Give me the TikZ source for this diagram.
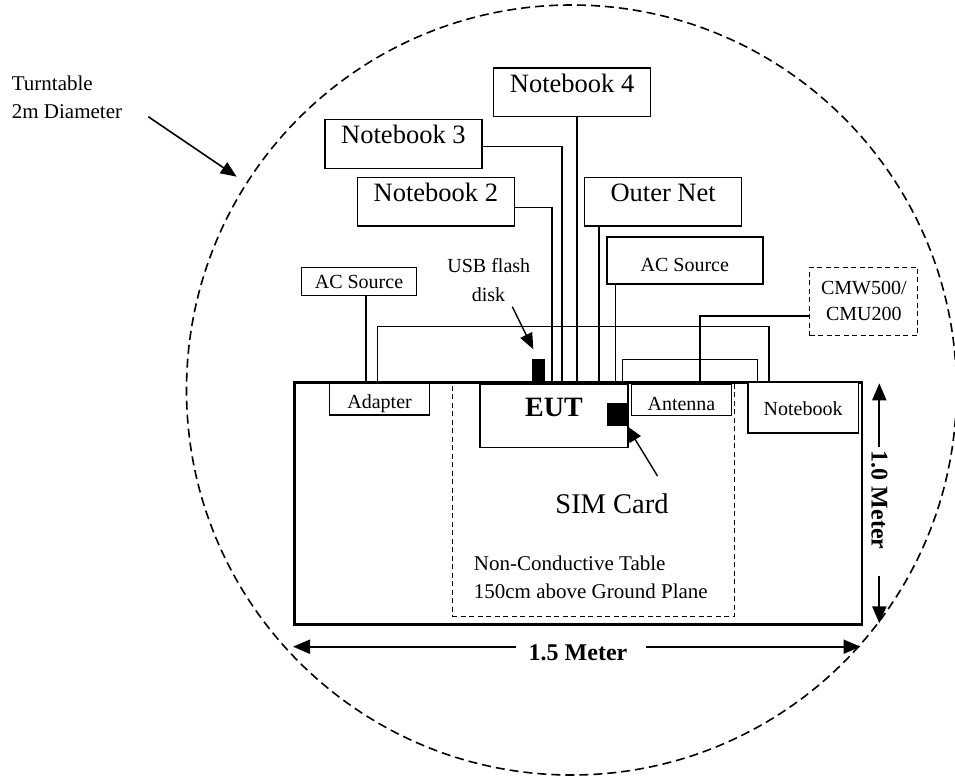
\documentclass[tikz,border=0pt]{standalone}
\usepackage{fontspec}
\setmainfont{Liberation Serif}
\usetikzlibrary{arrows.meta}
\newcommand\fntsmall{\fontsize{20pt}{24pt}\selectfont}
\newcommand\fntnb{\fontsize{26.5pt}{30pt}\selectfont}
\newcommand\fntlbl{\fontsize{21pt}{25pt}\selectfont}
\tikzset{
  bx/.style={draw, line width=1.25pt, fill=white, inner sep=0pt, anchor=north west},
  nbbox/.style={bx, font=\fntnb, minimum width=157pt, text height=24.3pt, text depth=24.3pt},
  smallbox/.style={bx, font=\fntsmall},
  wire/.style={line width=1.15pt},
  arr/.style={-{Triangle[length=16pt,width=13pt]}},
  dimarr/.style={-{Triangle[length=17pt,width=14pt]}, line width=2pt},
  txt/.style={inner sep=0pt, anchor=base},
  blk/.style={fill=black, inner sep=0pt}
}
\begin{document}
\begin{tikzpicture}[x=1pt,y=-1pt]
\useasboundingbox (0,0) rectangle (955,776);
% turntable
\draw[line width=1.6pt, dash pattern=on 9pt off 5pt] (571.5,390) circle[radius=385];
\node[txt, anchor=base west, font=\fntlbl] (tt1) at (11.7,90) {Turntable};
\node[txt, anchor=base west, font=\fntlbl] (tt2) at (11.7,118.3) {2m Diameter};
\coordinate (ttfrom) at (148.3,116.7);
\coordinate (ttto) at (236.7,176.7);
\draw[arr, line width=1.6pt] (ttfrom) -- (ttto);
% table
\node[draw, line width=2.6pt, inner sep=0pt, anchor=north west, minimum width=567.5pt, minimum height=242pt] (table) at (293,381) {};
\node[draw, line width=1.1pt, dash pattern=on 5pt off 3.5pt, inner sep=0pt, anchor=north west, minimum width=282.3pt, minimum height=232.7pt] (area) at (451.7,383.3) {};
% upper boxes
\node[nbbox] (nb4) at (493,67.3) {Notebook 4};
\node[nbbox] (nb3) at (324.3,119) {Notebook 3};
\node[nbbox] (nb2) at (356.7,176.7) {Notebook 2};
\node[nbbox] (outer) at (584,176.7) {Outer Net};
\node[smallbox, line width=1.9pt, minimum width=155.7pt, text height=34.7pt, text depth=12.6pt] (acR) at (606,236) {AC Source};
\node[smallbox, minimum width=115.3pt, text height=21.3pt, text depth=7pt] (acL) at (300.7,266.7) {AC Source};
\node[bx, line width=1.1pt, dash pattern=on 5pt off 3.5pt, font=\fntsmall, align=center, minimum width=108pt, minimum height=68.3pt] (cmw) at (809.3,266.7) {CMW500/\\[2pt]CMU200};
% table boxes
\node[smallbox, minimum width=100pt, text height=26pt, text depth=6pt] (adapter) at (329,382.3) {Adapter};
\node[bx, font=\bfseries\fontsize{28pt}{32pt}\selectfont, minimum width=148pt, text height=32.4pt, text depth=31pt] (eut) at (479.3,383.3) {EUT};
\node[smallbox, minimum width=100.3pt, text height=26.7pt, text depth=4.6pt] (antenna) at (630.7,383.3) {Antenna};
\node[smallbox, minimum width=110.4pt, text height=33.3pt, text depth=17.3pt] (nbS) at (747.3,381.7) {Notebook};
% connectors
\draw[wire] (577,0 |- nb4.south) -- (577,0 |- eut.north);
\draw[wire] (nb3.east |- 0,146.7) -| (562,0 |- eut.north);
\draw[wire] (nb2.east |- 0,207.7) -| (552,0 |- eut.north);
\draw[wire] (599,0 |- outer.south) -- (599,0 |- eut.north);
\draw[wire] (615.7,0 |- acR.south) -- (615.7,0 |- eut.north);
\draw[wire] (366,0 |- acL.south) -- (366,0 |- adapter.north);
\draw[wire] (377.7,0 |- adapter.north) |- (769,326.7) -- (769,0 |- nbS.north);
\draw[wire] (622.7,0 |- eut.north) |- (757.7,359.3) -- (757.7,0 |- nbS.north);
\draw[wire] (cmw.west |- 0,316) -| (700,0 |- antenna.north);
% USB flash disk
\node[blk, minimum width=12.7pt, minimum height=21.7pt] (usb) at (538.7,370.2) {};
\node[txt, font=\fntsmall] (usbt1) at (488.8,272.3) {USB flash};
\node[txt, font=\fntsmall] (usbt2) at (488.5,301) {disk};
\coordinate (usbfrom) at (512.3,306.7);
\coordinate (usbto) at (533.3,349.3);
\draw[arr, line width=1.4pt] (usbfrom) -- (usbto);
% SIM card
\node[blk, minimum width=20pt, minimum height=22.4pt] (sim) at (616.7,414.5) {};
\node[txt, font=\fontsize{28.5pt}{32pt}\selectfont] (simt) at (612,513.3) {SIM Card};
\coordinate (simfrom) at (657.5,476);
\draw[arr, line width=1.4pt] (simfrom) -- (sim.south east);
% table text
\node[txt, anchor=base west, font=\fntlbl] (nct1) at (473.7,570) {Non-Conductive Table};
\node[txt, anchor=base west, font=\fntlbl] (nct2) at (473.7,598.3) {150cm above Ground Plane};
% dimensions
\node[font=\bfseries\fontsize{24pt}{28pt}\selectfont, rotate=-90, inner sep=0pt] (m10) at (879.3,500) {1.0 Meter};
\coordinate (m10a) at (879.3,446.7);
\coordinate (m10top) at (879.3,383.3);
\coordinate (m10b) at (879.3,576);
\coordinate (m10bot) at (879.3,623.3);
\draw[dimarr] (m10a) -- (m10top);
\draw[dimarr] (m10b) -- (m10bot);
\node[font=\bfseries\fontsize{24pt}{28pt}\selectfont, inner sep=0pt, anchor=base] (m15) at (578,660) {1.5 Meter};
\coordinate (m15a) at (515.6,646.7);
\coordinate (m15left) at (293,646.7);
\coordinate (m15b) at (646,646.7);
\coordinate (m15right) at (860.5,646.7);
\draw[dimarr] (m15a) -- (m15left);
\draw[dimarr] (m15b) -- (m15right);
\end{tikzpicture}
\end{document}
